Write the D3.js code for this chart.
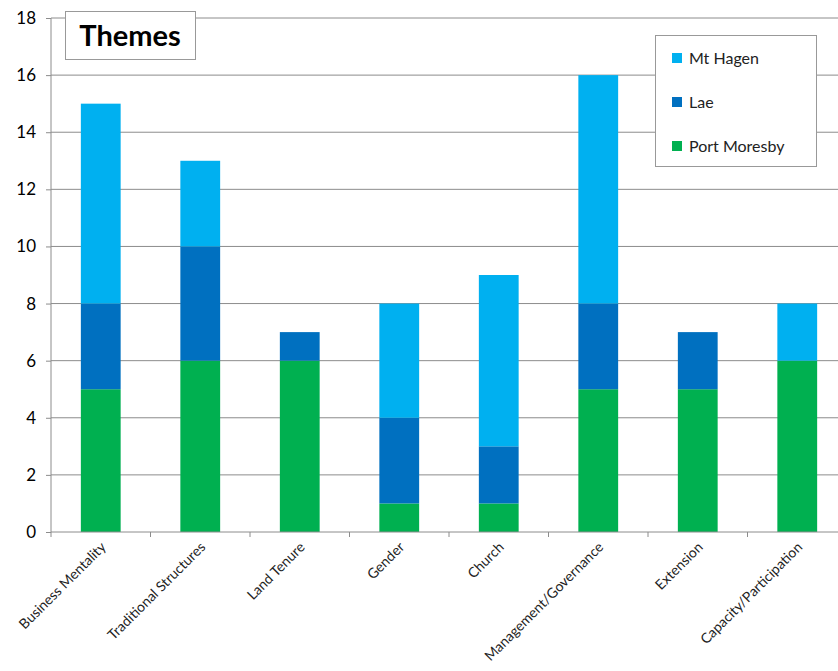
<!DOCTYPE html>
<html>
<head>
<meta charset="utf-8">
<script src="https://d3js.org/d3.v7.min.js"></script>
<style>
  body { margin: 0; background: #fff; }
  svg { display: block; }
</style>
</head>
<body>
<div id="chart"></div>
<script>
var categories = ["Business Mentality", "Traditional Structures", "Land Tenure", "Gender",
    "Church", "Management/Governance", "Extension", "Capacity/Participation"];
var portMoresby = [5, 6, 6, 1, 1, 5, 5, 6];
var lae = [3, 4, 1, 3, 2, 3, 2, 0];
var mtHagen = [7, 3, 0, 4, 6, 8, 0, 2];
var seriesNames = ["Port Moresby", "Lae", "Mt Hagen"];
var yTicks = [0, 2, 4, 6, 8, 10, 12, 14, 16, 18];

var colors = {"Port Moresby": "#00b050", "Lae": "#0070c0", "Mt Hagen": "#00b0f0"};
var fontFam = "Lato, 'Open Sans', sans-serif";

var W = 838, H = 671;
var margin = {top: 18, right: 0, bottom: 139, left: 51};
var bandW = 99.5;

var svg = d3.select("#chart").append("svg")
    .attr("width", W)
    .attr("height", H);

var x = d3.scaleBand()
    .domain(categories)
    .range([margin.left, margin.left + bandW * categories.length])
    .paddingInner(0.6)
    .paddingOuter(0.3);

var y = d3.scaleLinear()
    .domain([0, 18])
    .range([H - margin.bottom, margin.top]);

// gridlines
svg.append("g")
    .selectAll("line")
    .data(yTicks.slice(1))
    .enter().append("line")
    .attr("x1", margin.left)
    .attr("x2", W)
    .attr("y1", function(d) { return y(d); })
    .attr("y2", function(d) { return y(d); })
    .attr("stroke", "#8c8c8c")
    .attr("stroke-width", 1);

// stacked data
var rows = categories.map(function(c, i) {
    return {cat: c, "Port Moresby": portMoresby[i], "Lae": lae[i], "Mt Hagen": mtHagen[i]};
});
var stack = d3.stack().keys(seriesNames)(rows);

svg.append("g")
    .selectAll("g")
    .data(stack)
    .enter().append("g")
    .attr("fill", function(d) { return colors[d.key]; })
    .selectAll("rect")
    .data(function(d) { return d; })
    .enter().append("rect")
    .attr("x", function(d) { return x(d.data.cat); })
    .attr("width", x.bandwidth())
    .attr("y", function(d) { return y(d[1]); })
    .attr("height", function(d) { return y(d[0]) - y(d[1]); });

// y axis
var yAxis = svg.append("g")
    .attr("transform", "translate(" + margin.left + ",0)")
    .call(d3.axisLeft(y).tickValues(yTicks).tickSize(5).tickPadding(10));
yAxis.select(".domain").attr("stroke", "#8c8c8c").attr("d", "M0," + y(18) + "V" + y(0));
yAxis.selectAll(".tick line").attr("stroke", "#8c8c8c");
yAxis.selectAll("text")
    .style("font-family", fontFam)
    .style("font-size", "17px")
    .attr("fill", "#000");

// x axis
var xAxisG = svg.append("g")
    .attr("transform", "translate(0," + y(0) + ")");
xAxisG.append("line")
    .attr("x1", margin.left).attr("x2", W)
    .attr("stroke", "#8c8c8c");
xAxisG.selectAll(".xtick")
    .data(d3.range(categories.length + 1))
    .enter().append("line")
    .attr("x1", function(i) { return margin.left + i * bandW; })
    .attr("x2", function(i) { return margin.left + i * bandW; })
    .attr("y1", 0).attr("y2", 5)
    .attr("stroke", "#8c8c8c");
xAxisG.selectAll(".xlab")
    .data(categories)
    .enter().append("text")
    .attr("transform", function(d) {
        return "translate(" + (x(d) + x.bandwidth() / 2 + 6) + ",16) rotate(-45)";
    })
    .attr("text-anchor", "end")
    .style("font-family", fontFam)
    .style("font-size", "14px")
    .attr("fill", "#222")
    .text(function(d) { return d; });

// title box
svg.append("rect")
    .attr("x", 65.5).attr("y", 11.5)
    .attr("width", 130).attr("height", 48)
    .attr("fill", "#fff")
    .attr("stroke", "#999");
svg.append("text")
    .attr("x", 130).attr("y", 46)
    .attr("text-anchor", "middle")
    .style("font-family", fontFam)
    .style("font-weight", "bold")
    .style("font-size", "29px")
    .attr("fill", "#000")
    .text("Themes");

// legend
var legendItems = ["Mt Hagen", "Lae", "Port Moresby"];
svg.append("rect")
    .attr("x", 655.5).attr("y", 35.5)
    .attr("width", 161).attr("height", 131)
    .attr("fill", "#fff")
    .attr("stroke", "#999");
var leg = svg.append("g")
    .selectAll("g")
    .data(legendItems)
    .enter().append("g")
    .attr("transform", function(d, i) { return "translate(672," + (58 + i * 44) + ")"; });
leg.append("rect")
    .attr("x", 0).attr("y", -5)
    .attr("width", 10).attr("height", 10)
    .attr("fill", function(d) { return colors[d]; });
leg.append("text")
    .attr("x", 17).attr("y", 5.5)
    .style("font-family", fontFam)
    .style("font-size", "16px")
    .attr("fill", "#222")
    .text(function(d) { return d; });
</script>
</body>
</html>
